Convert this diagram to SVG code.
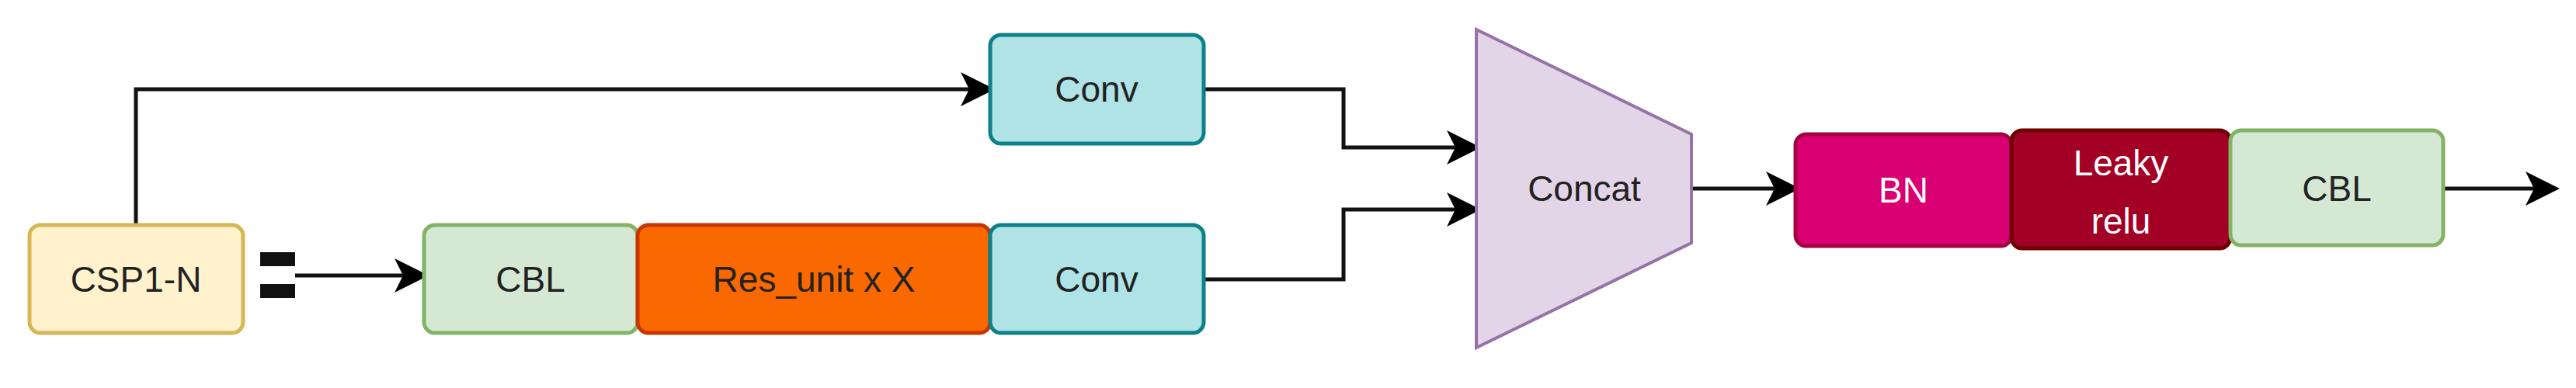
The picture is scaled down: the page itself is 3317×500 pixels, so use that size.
<svg xmlns="http://www.w3.org/2000/svg" width="3317" height="500" viewBox="0 0 3317 500">
<style>
text{font-family:"Liberation Sans",Arial,sans-serif;font-size:46px;text-anchor:middle;dominant-baseline:central;fill:#222}
.w{fill:#fff}
.c{fill:none;stroke:#111;stroke-width:5}
rect{stroke-width:5}
</style>
<defs><marker id="a" markerWidth="12" markerHeight="12" refX="10" refY="6" orient="auto" markerUnits="userSpaceOnUse" viewBox="0 0 12 12"><path d="M0,0L12,6L0,12L3,6Z" fill="#000"/></marker>
<marker id="b" markerWidth="44" markerHeight="44" refX="38" refY="22" orient="auto" markerUnits="userSpaceOnUse" viewBox="0 0 44 44"><path d="M0,0L44,22L0,44L11,22Z" fill="#000"/></marker></defs>
<g id="connectors">
<path class="c" d="M175,290V115H1275" marker-end="url(#b)"/>
<path class="c" d="M1550,115H1730V190H1901" marker-end="url(#b)"/>
<path class="c" d="M1550,360H1730V270H1901" marker-end="url(#b)"/>
<path class="c" d="M2178,243H2312" marker-end="url(#b)"/>
<path class="c" d="M3146,243H3290" marker-end="url(#b)"/>
<path class="c" d="M380,355H546" marker-end="url(#b)"/>
<rect x="335" y="325" width="45" height="18" fill="#111" stroke="none"/>
<rect x="335" y="366" width="45" height="18" fill="#111" stroke="none"/>
</g>
<g id="csp"><rect x="38" y="290" width="275" height="139" rx="14" fill="#fff2cc" stroke="#d6b656"/><text x="175" y="360">CSP1-N</text></g>
<g id="conv1"><rect x="1275" y="45" width="275" height="140" rx="14" fill="#b0e3e6" stroke="#0e8088"/><text x="1412" y="115">Conv</text></g>
<g id="cbl1"><rect x="546" y="290" width="275" height="139" rx="14" fill="#d5e8d4" stroke="#82b366"/><text x="683" y="360">CBL</text></g>
<g id="res"><rect x="821" y="290" width="454" height="139" rx="14" fill="#fa6800" stroke="#c73500"/><text x="1048" y="360">Res_unit x X</text></g>
<g id="conv2"><rect x="1275" y="290" width="275" height="139" rx="14" fill="#b0e3e6" stroke="#0e8088"/><text x="1412" y="360">Conv</text></g>
<g id="concat"><path d="M1901,38L2178,173V313L1901,448Z" fill="#e1d5e7" stroke="#9673a6" stroke-width="4"/><text x="2040" y="243">Concat</text></g>
<g id="bn"><rect x="2312" y="173" width="278" height="144" rx="14" fill="#d80073" stroke="#a50040"/><text class="w" x="2451" y="245">BN</text></g>
<g id="leaky"><rect x="2590" y="168" width="282" height="152" rx="14" fill="#a20025" stroke="#6f0000"/><text class="w" x="2731" y="210">Leaky</text><text class="w" x="2731" y="285">relu</text></g>
<g id="cbl2"><rect x="2872" y="168" width="274" height="148" rx="14" fill="#d5e8d4" stroke="#82b366"/><text x="3009" y="243">CBL</text></g>
</svg>
